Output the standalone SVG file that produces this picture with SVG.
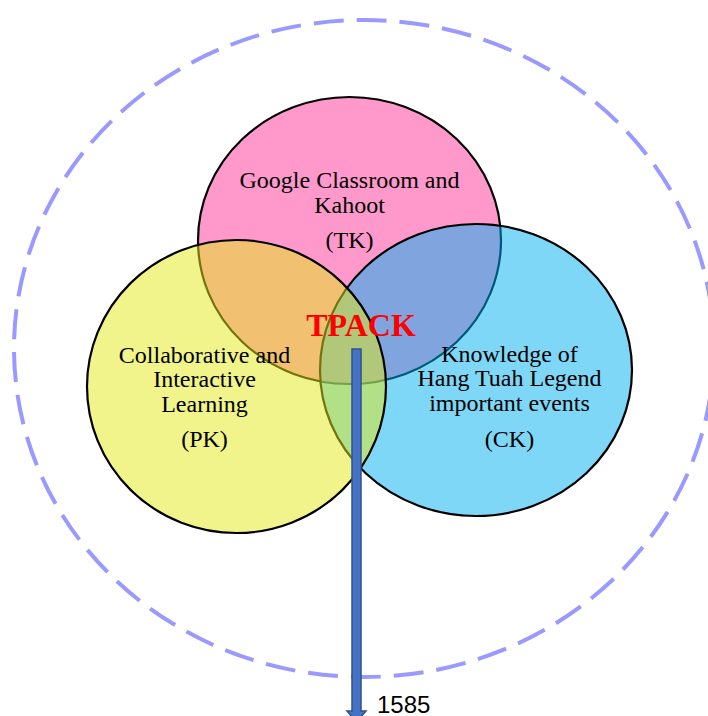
<svg xmlns="http://www.w3.org/2000/svg" width="708" height="716" viewBox="0 0 708 716">
<style>
.circ{stroke:#000;stroke-width:2.2;fill-opacity:0.5}
.lbl{font-family:"Liberation Serif","Times New Roman",serif;font-size:24px;fill:#000;text-anchor:middle}
.tpack{font-family:"Liberation Serif","Times New Roman",serif;font-size:32px;font-weight:bold;fill:#FF0000;text-anchor:middle}
.num{font-family:"Liberation Sans",Arial,sans-serif;font-size:24px;fill:#000}
</style>
<rect width="708" height="716" fill="#fff"/>
<g id="context">
<ellipse cx="364" cy="348.5" rx="350" ry="328.5" fill="none" stroke="#9999FF" stroke-width="4" stroke-dasharray="30 13"/>
</g>
<g id="tk">
<ellipse class="circ" cx="349.5" cy="240.5" rx="151.5" ry="143.5" fill="#FF3399"/>
<text class="lbl" x="349.5" y="188">Google Classroom and</text>
<text class="lbl" x="349.5" y="213">Kahoot</text>
<text class="lbl" x="349.5" y="248">(TK)</text>
</g>
<g id="ck">
<ellipse class="circ" cx="476" cy="370" rx="156" ry="146" fill="#00B0F0"/>
<text class="lbl" x="509.5" y="362">Knowledge of</text>
<text class="lbl" x="509.5" y="386">Hang Tuah Legend</text>
<text class="lbl" x="509.5" y="411">important events</text>
<text class="lbl" x="509.5" y="447">(CK)</text>
</g>
<g id="pk">
<ellipse class="circ" cx="236.5" cy="386.5" rx="149.5" ry="146.5" fill="#E3E915"/>
<text class="lbl" x="204.5" y="363">Collaborative and</text>
<text class="lbl" x="204.5" y="387">Interactive</text>
<text class="lbl" x="204.5" y="412">Learning</text>
<text class="lbl" x="204.5" y="447">(PK)</text>
</g>
<g id="tpack">
<text class="tpack" x="361" y="336">TPACK</text>
</g>
<g id="connectors">
<polygon points="352,349 361,349 361,711 366,711 356.5,722 347,711 352,711" fill="#4472C4" stroke="#2F528F" stroke-width="1.5"/>
</g>
<g id="output">
<text class="num" x="377" y="713">1585</text>
</g>
</svg>
